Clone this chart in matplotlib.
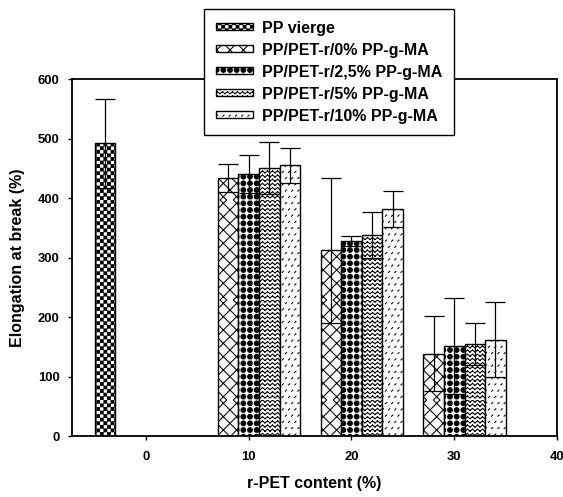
import warnings
warnings.filterwarnings("ignore")
import numpy as np
import matplotlib
matplotlib.use("Agg")
import matplotlib.pyplot as plt
import matplotlib.hatch as mhatch
from matplotlib.path import Path

# ---------------- data ----------------
contents = [0, 10, 20, 30]
series_labels = ["PP vierge", "PP/PET-r/0% PP-g-MA", "PP/PET-r/2,5% PP-g-MA",
                 "PP/PET-r/5% PP-g-MA", "PP/PET-r/10% PP-g-MA"]
pp_vierge = [492, np.nan, np.nan, np.nan]
pp_vierge_err = [75, np.nan, np.nan, np.nan]
ma0 = [np.nan, 434, 312, 138]
ma0_err = [np.nan, 24, 122, 63]
ma25 = [np.nan, 440, 328, 151]
ma25_err = [np.nan, 32, 8, 81]
ma5 = [np.nan, 450, 338, 155]
ma5_err = [np.nan, 44, 38, 35]
ma10 = [np.nan, 455, 382, 162]
ma10_err = [np.nan, 29, 30, 63]
values = [pp_vierge, ma0, ma25, ma5, ma10]
errors = [pp_vierge_err, ma0_err, ma25_err, ma5_err, ma10_err]
xticks = [0, 10, 20, 30, 40]
yticks = [0, 100, 200, 300, 400, 500, 600]

# ---------------- custom hatch patterns ----------------
M, L, C = Path.MOVETO, Path.LINETO, Path.CLOSEPOLY


class _Base(mhatch.HatchPatternBase):
    char = "?"

    def __init__(self, hatch, density):
        self.count = hatch.count(self.char) if hatch else 0
        self.build() if self.count else None
        self.num_vertices = len(self.verts) if self.count else 0

    def set_vertices_and_codes(self, vertices, codes):
        vertices[:] = self.verts
        codes[:] = self.cds


class Checker(_Base):
    char = "c"

    def build(self):
        n = self.count * 2
        s = 1.0 / n
        e = 0.004
        v, c = [], []
        for i in range(n):
            for j in range(n):
                if (i + j) % 2 == 0:
                    x0, y0, x1, y1 = i * s + e, j * s + e, (i + 1) * s - e, (j + 1) * s - e
                    v += [[x0, y0], [x1, y0], [x1, y1], [x0, y1], [x0, y0]]
                    c += [M, L, L, L, C]
        self.verts, self.cds = np.array(v), np.array(c, dtype=Path.code_type)


class Cross(_Base):
    char = "k"

    def build(self):
        n = self.count
        v, c = [], []
        for s in np.linspace(-0.5, 0.5, n + 1):
            v += [[s, -s], [1 + s, 1 - s]]
            v += [[s, 1 + s], [1 + s, s]]
            c += [M, L, M, L]
        self.verts, self.cds = np.array(v), np.array(c, dtype=Path.code_type)


class Dots(_Base):
    char = "b"

    def build(self):
        n = self.count
        r = 0.36 / n
        t = np.linspace(0, 2 * np.pi, 13)[:-1]
        v, c = [], []
        for i in range(n):
            for j in range(n):
                cx, cy = (i + 0.5) / n, (j + 0.5) / n
                pts = np.column_stack([cx + r * np.cos(t), cy + r * np.sin(t)])
                v += pts.tolist() + [pts[0].tolist()]
                c += [M] + [L] * 11 + [C]
        self.verts, self.cds = np.array(v), np.array(c, dtype=Path.code_type)


class Zigzag(_Base):
    char = "z"

    def build(self):
        rows = self.count
        per = 20
        a = 0.02
        v, c = [], []
        for r in range(rows):
            y = (r + 0.5) / rows
            for k in range(per):
                x0, xm, x1 = k / per, (k + 0.5) / per, (k + 1) / per
                v += [[x0, y], [xm, y + a], [xm, y + a], [x1, y]]
                c += [M, L, M, L]
        self.verts, self.cds = np.array(v), np.array(c, dtype=Path.code_type)


class Slash(_Base):
    char = "s"

    def build(self):
        n = self.count
        d = 0.006
        v, c = [], []
        for r in range(n):
            y = (r + 0.5) / n
            off = 0.5 / n if r % 2 else 0.0
            for k in range(n):
                x = (k + 0.25) / n + off
                v += [[x - d, y - d], [x + d, y + d]]
                c += [M, L]
        self.verts, self.cds = np.array(v), np.array(c, dtype=Path.code_type)


mhatch._hatch_types.extend([Checker, Cross, Dots, Zigzag, Slash])

hatches = ["c" * 14, "k" * 15, "b" * 15, "z" * 24, "s" * 16]

# ---------------- plot ----------------
plt.rcParams['font.family'] = ['Liberation Sans', 'DejaVu Sans']
plt.rcParams['font.weight'] = 'bold'
plt.rcParams['hatch.linewidth'] = 0.75

fig = plt.figure(figsize=(5.63, 4.97), dpi=100)
ax = fig.add_axes([0.1279, 0.1227, 0.8614, 0.7183])

width = 2.0
offsets = [-4, -2, 0, 2, 4]
xs = np.array(contents, dtype=float)
handles = []
for vals, errs, off, h, lab in zip(values, errors, offsets, hatches, series_labels):
    vals = np.array(vals, dtype=float)
    errs = np.array(errs, dtype=float)
    mask = ~np.isnan(vals)
    b = ax.bar(xs[mask] + off, vals[mask], width=width, facecolor='white',
               edgecolor='black', linewidth=1.0, hatch=h, label=lab, zorder=2)
    ax.errorbar(xs[mask] + off, vals[mask], yerr=errs[mask], fmt='none',
                ecolor='black', elinewidth=0.9, capsize=7.5, capthick=0.9, zorder=3)
    handles.append(b)

ax.set_xlim(-7.2, 40)
ax.set_ylim(0, 600)
ax.set_xticks(xticks)
ax.set_yticks(yticks)
ax.tick_params(axis='x', direction='out', length=3, width=1, labelsize=9.4, pad=8)
ax.tick_params(axis='y', direction='out', length=3, width=1, labelsize=9.4, pad=6)
for sp in ax.spines.values():
    sp.set_linewidth(1.3)
ax.set_xlabel("r-PET content (%)", fontsize=11.5, fontweight='bold', labelpad=9)
ax.set_ylabel("Elongation at break (%)", fontsize=11.5, fontweight='bold', labelpad=9)

leg = fig.legend(handles=handles, labels=series_labels, loc='upper left',
                 bbox_to_anchor=(204 / 563, 1 - 9 / 497), fontsize=11.5,
                 frameon=True, fancybox=False, shadow=False, framealpha=1,
                 edgecolor='black', handlelength=2.36, handleheight=0.3,
                 handletextpad=0.56, labelspacing=0.44, borderpad=0.72,
                 borderaxespad=0)
leg.get_frame().set_linewidth(1.0)
leg.set_zorder(5)

fig.savefig("out.png", dpi=100)
